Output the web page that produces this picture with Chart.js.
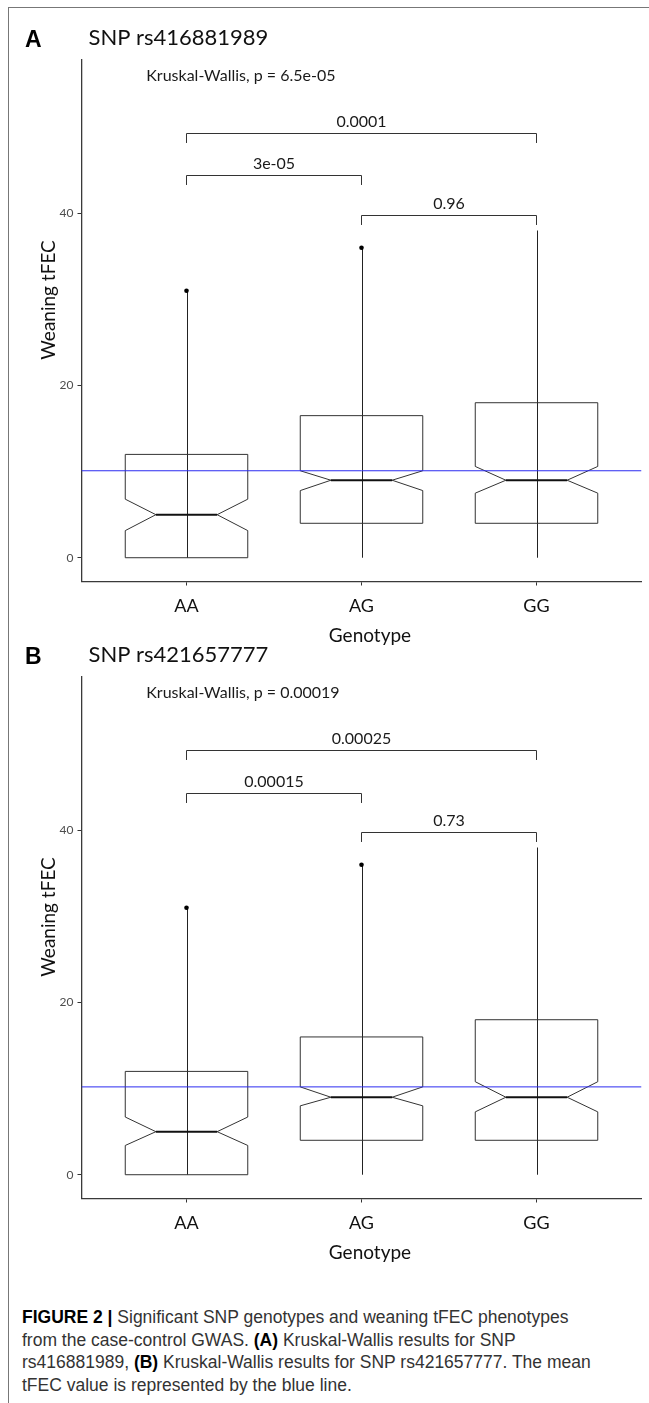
<!DOCTYPE html>
<html><head><meta charset="utf-8">
<script src="https://cdn.jsdelivr.net/npm/chart.js@4.4.1/dist/chart.umd.min.js"></script>
<style>
html,body{margin:0;padding:0;background:#fff;width:649px;height:1403px;overflow:hidden;position:relative}
.frame{position:absolute;left:8px;top:7px;width:700px;height:1500px;border-left:1.5px solid #777;border-top:1.5px solid #777}
canvas{position:absolute;left:0}
#cA{top:0}
#cB{top:617px}
#cap{position:absolute;left:22px;top:1306px;font-family:"Liberation Sans Narrow","Arial Narrow",sans-serif;font-size:17.5px;line-height:22.6px;color:#333;white-space:nowrap}
#cap b{color:#000}
</style></head>
<body>
<div class="frame"></div>
<canvas id="cA" width="649" height="660"></canvas>
<canvas id="cB" width="649" height="660"></canvas>
<div id="cap"><b>FIGURE 2 |</b> Significant SNP genotypes and weaning tFEC phenotypes<br>from the case-control GWAS. <b>(A)</b> Kruskal-Wallis results for SNP<br>rs416881989, <b>(B)</b> Kruskal-Wallis results for SNP rs421657777. The mean<br>tFEC value is represented by the blue line.</div>
<script>
// ---- shared ----
const categories = ['AA', 'AG', 'GG'];
const yTickValues = [0, 20, 40];
const xTickValues = [1, 2, 3];
const comparisonPairs = [[1, 3], [1, 2], [2, 3]];
const yAxisTitle = 'Weaning tFEC';
const xAxisTitle = 'Genotype';

// ---- panel A ----
const letterA = 'A';
const titleA = 'SNP rs416881989';
const kwLabelA = 'Kruskal-Wallis, p = 6.5e-05';
const minA = [0, 0, 0];
const q1A = [0, 4, 4];
const medianA = [5, 9, 9];
const q3A = [12, 16.5, 18];
const maxA = [31, 36, 38];
const notchLowA = [3.15, 7.8, 7.5];
const notchHighA = [6.8, 10.1, 10.6];
const outliersA = [31, 36, null];
const meanA = 10.1;
const bracketYA = [49.3, 44.4, 39.8];
const pLabelsA = ['0.0001', '3e-05', '0.96'];

// ---- panel B ----
const letterB = 'B';
const titleB = 'SNP rs421657777';
const kwLabelB = 'Kruskal-Wallis, p = 0.00019';
const minB = [0, 0, 0];
const q1B = [0, 4, 4];
const medianB = [5, 9, 9];
const q3B = [12, 16, 18];
const maxB = [31, 36, 38];
const notchLowB = [3.4, 8.0, 7.3];
const notchHighB = [6.7, 10.2, 10.8];
const outliersB = [31, 36, null];
const meanB = 10.2;
const bracketYB = [49.3, 44.3, 39.8];
const pLabelsB = ['0.00025', '0.00015', '0.73'];

const LATO = 'Lato, "Open Sans", sans-serif';

const boxPlugin = {
  id: 'notchedBoxes',
  beforeDatasetsDraw(chart) {
    const p = chart.options.plugins.notchedBoxes;
    const xs = chart.scales.x, ys = chart.scales.y, ctx = chart.ctx;
    const halfW = (xs.getPixelForValue(1.35) - xs.getPixelForValue(1));
    ctx.save();
    for (let i = 0; i < p.q1.length; i++) {
      const cx = xs.getPixelForValue(i + 1);
      // whisker
      ctx.strokeStyle = '#222'; ctx.lineWidth = 1;
      ctx.beginPath();
      ctx.moveTo(Math.round(cx) + 0.5, ys.getPixelForValue(p.min[i]));
      ctx.lineTo(Math.round(cx) + 0.5, ys.getPixelForValue(p.max[i]));
      ctx.stroke();
      // notched box
      const l = cx - halfW, r = cx + halfW, nl = cx - halfW / 2, nr = cx + halfW / 2;
      const yq1 = ys.getPixelForValue(p.q1[i]), yq3 = ys.getPixelForValue(p.q3[i]);
      const ym = ys.getPixelForValue(p.median[i]);
      const ynh = ys.getPixelForValue(p.notchHigh[i]), ynl = ys.getPixelForValue(p.notchLow[i]);
      ctx.strokeStyle = '#333'; ctx.lineWidth = 1;
      ctx.beginPath();
      ctx.moveTo(l, yq3); ctx.lineTo(r, yq3); ctx.lineTo(r, ynh); ctx.lineTo(nr, ym);
      ctx.lineTo(r, ynl); ctx.lineTo(r, yq1); ctx.lineTo(l, yq1); ctx.lineTo(l, ynl);
      ctx.lineTo(nl, ym); ctx.lineTo(l, ynh); ctx.closePath();
      ctx.stroke();
      ctx.strokeStyle = '#111'; ctx.lineWidth = 2;
      ctx.beginPath(); ctx.moveTo(nl, ym); ctx.lineTo(nr, ym); ctx.stroke();
    }
    ctx.restore();
  },
  afterDraw(chart) {
    const p = chart.options.plugins.notchedBoxes;
    const xs = chart.scales.x, ys = chart.scales.y, ctx = chart.ctx;
    ctx.save();
    // brackets
    const tip = ys.getPixelForValue(0) - ys.getPixelForValue(1.1);
    ctx.strokeStyle = '#333'; ctx.lineWidth = 1;
    ctx.fillStyle = '#1a1a1a';
    ctx.font = '16px ' + LATO;
    ctx.textAlign = 'center'; ctx.textBaseline = 'alphabetic';
    p.pairs.forEach((pr, k) => {
      const x1 = xs.getPixelForValue(pr[0]), x2 = xs.getPixelForValue(pr[1]);
      const y = Math.round(ys.getPixelForValue(p.bracketY[k])) + 0.5;
      ctx.beginPath();
      ctx.moveTo(x1, y + tip); ctx.lineTo(x1, y); ctx.lineTo(x2, y); ctx.lineTo(x2, y + tip);
      ctx.stroke();
      ctx.fillText(p.pLabels[k], (x1 + x2) / 2, y - 6.5);
    });
    // Kruskal-Wallis label
    ctx.textAlign = 'left';
    ctx.fillText(p.kw, xs.getPixelForValue(0.77), ys.getPixelForValue(55.4));
    // panel letter + title
    ctx.fillStyle = '#000';
    ctx.font = 'bold 23px "Liberation Sans", Arial, sans-serif';
    ctx.fillText(p.letter, 25, 47);
    ctx.fillStyle = '#111';
    ctx.font = '22px ' + LATO;
    ctx.fillText(p.title, 88.5, 45);
    // axis titles
    ctx.font = '19px ' + LATO;
    ctx.textAlign = 'center';
    ctx.fillText(xAxisTitle, 370, 641.5);
    ctx.translate(55, 300);
    ctx.rotate(-Math.PI / 2);
    ctx.fillText(yAxisTitle, 0, 0);
    ctx.restore();
  }
};

function makeChart(id, d) {
  return new Chart(document.getElementById(id), {
    type: 'scatter',
    data: {
      datasets: [
        {
          type: 'line',
          data: [{ x: 0.4, y: d.mean }, { x: 3.6, y: d.mean }],
          borderColor: '#2b2bf0', borderWidth: 1, pointRadius: 0, fill: false
        },
        {
          type: 'scatter',
          data: d.outliers.map((v, i) => v === null ? null : { x: i + 1, y: v }).filter(Boolean),
          backgroundColor: '#000', borderColor: '#000', pointRadius: 2.3, borderWidth: 0
        }
      ]
    },
    options: {
      responsive: false, animation: false,
      layout: { padding: { top: 60, right: 7.5, left: 0, bottom: 0 } },
      plugins: {
        legend: { display: false }, tooltip: { enabled: false },
        notchedBoxes: d
      },
      scales: {
        x: {
          type: 'linear', min: 0.4, max: 3.6,
          afterFit: s => { s.height = 78.5; },
          afterBuildTicks: s => { s.ticks = xTickValues.map(v => ({ value: v })); },
          grid: { display: true, drawOnChartArea: false, drawTicks: true, tickLength: 4, color: '#333' },
          border: { display: true, color: '#3a3a3a', width: 1.3 },
          ticks: {
            callback: v => categories[v - 1],
            font: { family: LATO, size: 18 }, color: '#111', padding: 10, maxRotation: 0
          }
        },
        y: {
          type: 'linear', min: -2.76, max: 57.8,
          afterFit: s => { s.width = 81.5; },
          afterBuildTicks: s => { s.ticks = yTickValues.map(v => ({ value: v })); },
          grid: { display: true, drawOnChartArea: false, drawTicks: true, tickLength: 4, color: '#333' },
          border: { display: true, color: '#3a3a3a', width: 1.3 },
          ticks: { font: { family: LATO, size: 12 }, color: '#4d4d4d', padding: 4 }
        }
      }
    },
    plugins: [boxPlugin]
  });
}

makeChart('cA', {
  letter: letterA, title: titleA, kw: kwLabelA,
  min: minA, q1: q1A, median: medianA, q3: q3A, max: maxA,
  notchLow: notchLowA, notchHigh: notchHighA, outliers: outliersA, mean: meanA,
  pairs: comparisonPairs, bracketY: bracketYA, pLabels: pLabelsA
});
makeChart('cB', {
  letter: letterB, title: titleB, kw: kwLabelB,
  min: minB, q1: q1B, median: medianB, q3: q3B, max: maxB,
  notchLow: notchLowB, notchHigh: notchHighB, outliers: outliersB, mean: meanB,
  pairs: comparisonPairs, bracketY: bracketYB, pLabels: pLabelsB
});
</script>
</body></html>
